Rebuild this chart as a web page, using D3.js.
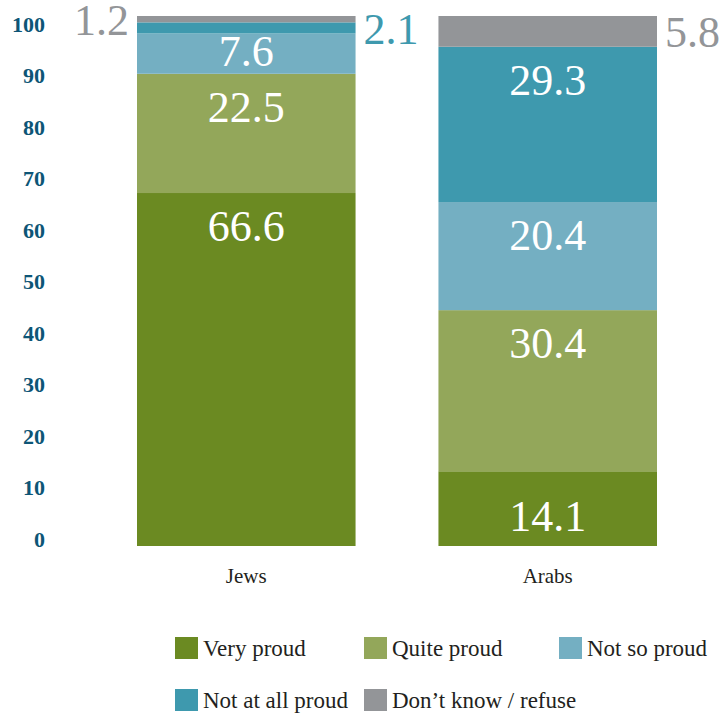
<!DOCTYPE html>
<html>
<head>
<meta charset="utf-8">
<script src="https://cdn.jsdelivr.net/npm/d3@7"></script>
<style>
  html, body { margin: 0; padding: 0; background: #fff; }
  svg { display: block; }
</style>
</head>
<body>
<div id="chart"></div>
<script>
// Pride in being a citizen, by population group (percent)
const groups = ["Jews", "Arabs"];
const categories = ["Very proud", "Quite proud", "Not so proud", "Not at all proud", "Don\u2019t know / refuse"];
const jewsValues  = [66.6, 22.5, 7.6, 2.1, 1.2];
const arabsValues = [14.1, 30.4, 20.4, 29.3, 5.8];
const yTicks = [0, 10, 20, 30, 40, 50, 60, 70, 80, 90, 100];
const colors = ["#6b8a22", "#93a75a", "#74afc2", "#3e99ae", "#939598"];

const width = 727, height = 716;
const serif = "'Liberation Serif', 'DejaVu Serif', serif";

const svg = d3.select("#chart").append("svg")
  .attr("width", width).attr("height", height);

const rows = groups.map((g, i) => {
  const row = { group: g };
  const vals = i === 0 ? jewsValues : arabsValues;
  categories.forEach((c, j) => row[c] = vals[j]);
  return row;
});

const series = d3.stack().keys(categories)(rows);

const x = d3.scaleBand().domain(groups).range([137, 657]).paddingInner(0.275).paddingOuter(0);
const y = d3.scaleLinear().domain([0, 100]).range([546, 16]);
// tick labels run on a slightly taller scale, baseline at the tick value
const yAxisScale = d3.scaleLinear().domain([0, 103]).range([546, 16]);
const color = d3.scaleOrdinal().domain(categories).range(colors);

// y axis labels
const yAxis = svg.append("g")
  .attr("transform", "translate(45,0)")
  .call(d3.axisLeft(yAxisScale).tickValues(yTicks).tickSize(0).tickPadding(0));
yAxis.select(".domain").remove();
yAxis.selectAll("text")
  .attr("dy", 0)
  .attr("font-family", serif)
  .attr("font-weight", "bold")
  .attr("font-size", 22)
  .attr("fill", "#0d5576");

// stacked bars
const layers = svg.append("g").selectAll("g")
  .data(series).join("g")
  .attr("fill", d => color(d.key));

layers.selectAll("rect")
  .data(d => d.map(p => Object.assign(p, { key: d.key })))
  .join("rect")
  .attr("x", d => x(d.data.group))
  .attr("width", x.bandwidth())
  .attr("y", d => y(d[1]))
  .attr("height", d => y(d[0]) - y(d[1]));

// value labels: large segments inside, thin ones beside the bar
const labels = [];
groups.forEach(g => {
  let outsideCount = 0;
  series.forEach(s => {
    const p = s.find(q => q.data.group === g);
    const v = p.data[s.key];
    const top = y(p[1]), bottom = y(p[0]), h = bottom - top;
    if (v >= 7) {
      labels.push({
        text: v.toFixed(1), x: x(g) + x.bandwidth() / 2,
        y: top + (h < 100 ? 0.8 * h : 48), anchor: "middle", fill: "#ffffff"
      });
    } else {
      const right = outsideCount % 2 === 0;
      outsideCount++;
      labels.push({
        text: v.toFixed(1),
        x: right ? x(g) + x.bandwidth() + 8 : x(g) - 8,
        y: (top + bottom) / 2 + 16,
        anchor: right ? "start" : "end",
        fill: color(s.key)
      });
    }
  });
});

svg.append("g").selectAll("text")
  .data(labels).join("text")
  .attr("x", d => d.x).attr("y", d => d.y)
  .attr("text-anchor", d => d.anchor)
  .attr("fill", d => d.fill)
  .attr("font-family", serif)
  .attr("font-size", 44)
  .text(d => d.text);

// x axis labels
svg.append("g").selectAll("text")
  .data(groups).join("text")
  .attr("x", d => x(d) + x.bandwidth() / 2)
  .attr("y", 583)
  .attr("text-anchor", "middle")
  .attr("font-family", serif)
  .attr("font-size", 21)
  .attr("fill", "#231f20")
  .text(d => d);

// legend: three columns, two rows
const legendColumnX = [175, 364, 559];
const legend = svg.append("g").selectAll("g")
  .data(categories).join("g")
  .attr("transform", (d, i) => `translate(${legendColumnX[i % 3]},${637 + Math.floor(i / 3) * 52})`);

legend.append("rect")
  .attr("width", 23).attr("height", 22)
  .attr("fill", d => color(d));

legend.append("text")
  .attr("x", 28).attr("y", 19)
  .attr("font-family", serif)
  .attr("font-size", 23)
  .attr("fill", "#231f20")
  .text(d => d);
</script>
</body>
</html>
